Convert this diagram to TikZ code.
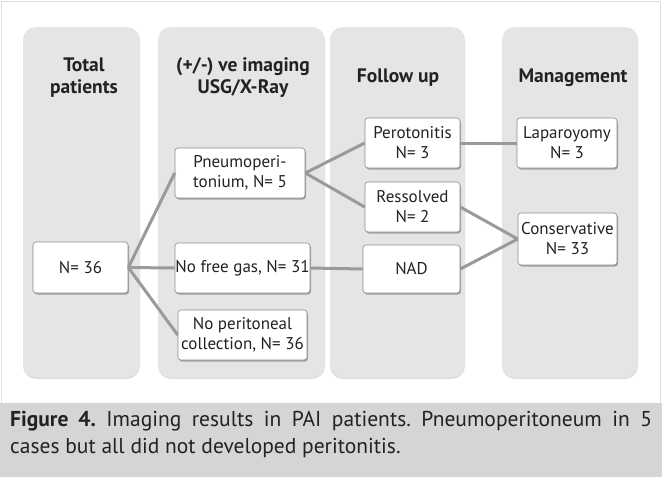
\documentclass[tikz,border=0pt]{standalone}
\usepackage{fontspec}
\setmainfont{PT Sans}
\usetikzlibrary{shadows}
\definecolor{panelgray}{HTML}{E5E5E5}
\definecolor{capgray}{HTML}{D4D5D7}
\definecolor{linkgray}{HTML}{9A9A9A}
\definecolor{boxline}{HTML}{8C8C8C}
\definecolor{txt}{HTML}{222222}
\frenchspacing
\begin{document}
\begin{tikzpicture}
  [x=1pt,y=-1pt,
   panel/.style={fill=panelgray,rounded corners=13pt,drop shadow={shadow xshift=0pt,shadow yshift=-2pt,fill=black,opacity=.12}},
   head/.style={align=center,text=txt,font=\fontsize{19.5}{22}\selectfont\bfseries},
   box/.style={rectangle,draw=boxline,line width=.6pt,fill=white,rounded corners=3pt,align=center,inner sep=0pt,
     text=txt,font=\fontsize{17}{20}\selectfont,drop shadow={shadow xshift=1pt,shadow yshift=-1.5pt,fill=black,opacity=.3}},
   link/.style={draw=linkgray,line width=3pt}]
  \useasboundingbox (0,0) rectangle (662,477);
  \fill[white] (0,0) rectangle (662,403);
  \draw[gray!25] (1.5,1.5) rectangle (660.5,403);
  \fill[capgray] (0,403) rectangle (662,477);

  \fill[panel] (23,27) rectangle (140,377);
  \fill[panel] (158,27) rectangle (325,377);
  \fill[panel] (330,27) rectangle (465,377);
  \fill[panel] (502,27) rectangle (638,377);

  \node[head] (h1) at (84,78) {Total\\patients};
  \node[head] (h2) at (243,78) {(+/-) ve imaging\\USG/X-Ray};
  \node[head] (h3) at (398,78) {Follow up};
  \node[head] (h4) at (573,78) {Management};

  \node[box,minimum width=95pt,minimum height=51pt] (n36) at (80.5,267.5) {N= 36};
  \node[box,minimum width=130pt,minimum height=50pt] (pneu) at (240,173) {Pneumoperi-\\tonium, N= 5};
  \node[box,minimum width=135pt,minimum height=50pt] (nogas) at (242.5,268) {No free gas, N= 31};
  \node[box,minimum width=129pt,minimum height=50pt] (nocol) at (242.5,335) {No peritoneal\\collection, N= 36};
  \node[box,minimum width=95pt,minimum height=50pt] (perot) at (412.5,143) {Perotonitis\\N= 3};
  \node[box,minimum width=95pt,minimum height=50pt] (resol) at (412.5,207) {Ressolved\\N= 2};
  \node[box,minimum width=97pt,minimum height=48pt] (nad) at (411.5,269) {NAD};
  \node[box,minimum width=100pt,minimum height=50pt] (lapar) at (567,143) {Laparoyomy\\N= 3};
  \node[box,minimum width=99pt,minimum height=52pt] (cons) at (567.5,239) {Conservative\\N= 33};

  \draw[link] (n36.east) -- (pneu.west);
  \draw[link] (n36.east) -- (nogas.west);
  \draw[link] (n36.east) -- (nocol.west);
  \draw[link] (pneu.east) -- (perot.west);
  \draw[link] (pneu.east) -- (resol.west);
  \draw[link] (nogas.east) -- (nad.west);
  \draw[link] (perot.east) -- (lapar.west);
  \draw[link] (resol.east) -- (cons.west);
  \draw[link] (nad.east) -- (cons.west);

  \node[anchor=north west,text width=642pt,align=justify,inner sep=0pt,text=txt,
    font=\fontsize{21.5}{27}\selectfont] (cap) at (10,411)
    {{\bfseries Figure 4.} Imaging results in PAI patients. Pneumoperitoneum in 5\linebreak
     cases but all did not developed peritonitis.};
\end{tikzpicture}
\end{document}
